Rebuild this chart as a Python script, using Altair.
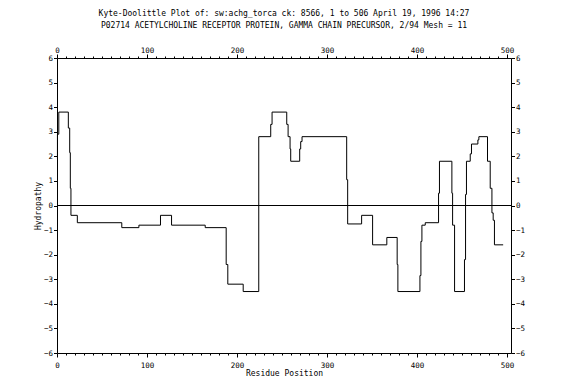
import altair as alt
import pandas as pd

# Step breakpoints (residue position) and hydropathy value of the following segment
positions = [0, 0.5, 2, 12.6, 14.1, 14.8, 15.5, 22.6, 72, 91,
             115, 127.3, 164.7, 188, 189.8, 206.9, 224.2, 237.5, 239, 255.3,
             256.8, 259, 259.7, 269.7, 270.8, 272.3, 321.9, 323, 338.5, 350.7,
             366.5, 378, 378.8, 403.3, 404.4, 405.5, 409.2, 424, 425, 438.8,
             439.6, 441.8, 452.8, 454, 455, 459.2, 460.6, 467.7, 468.8, 478.4,
             481.4, 483.3, 484.7, 486.1, 495.8]
hydropathy = [1.9, 2.9, 3.8, 3.15, 2.15, 0.7, -0.4, -0.7, -0.9, -0.8,
              -0.4, -0.8, -0.9, -2.4, -3.2, -3.5, 2.8, 3.3, 3.8, 3.3,
              2.8, 2.3, 1.8, 2.3, 2.6, 2.8, 1.05, -0.75, -0.4, -1.6,
              -1.3, -2.4, -3.5, -2.85, -1.46, -0.8, -0.7, 0.5, 1.8, 0.5,
              -0.8, -3.5, -2.2, 0.45, 1.8, 2.1, 2.5, 2.67, 2.8, 1.8,
              0.7, -0.3, -0.6, -1.6, -1.6]

x_ticks = list(range(0, 501, 10))
y_ticks = list(range(-6, 7))
title_lines = [
    "Kyte-Doolittle Plot of: sw:achg_torca ck: 8566, 1 to 506  April 19, 1996 14:27",
    "P02714 ACETYLCHOLINE RECEPTOR PROTEIN, GAMMA CHAIN PRECURSOR, 2/94 Mesh = 11",
]

df = pd.DataFrame({"pos": positions, "hyd": hydropathy})

FONT = "DejaVu Sans Mono"
xscale = alt.Scale(domain=[0, 504.5], nice=False, zero=False)
yscale = alt.Scale(domain=[-6, 6], nice=False)

major = {"condition": {"test": "datum.value % 100 === 0", "value": 4}, "value": 2}
lbl = "datum.value % 100 === 0 ? datum.label : ''"

common = dict(labelFont=FONT, labelFontSize=7.5, labelColor="black", tickColor="black",
              domainColor="black", grid=False, labelOverlap=False, labelFlush=False)

x_bottom = alt.Axis(orient="bottom", values=x_ticks, labelExpr=lbl, tickSize=major,
                    labelPadding=4, title="Residue Position", titleFont=FONT, titleFontSize=8,
                    titleFontWeight="normal", titleColor="black", titleY=20,
                    titleBaseline="middle", **common)
x_top = alt.Axis(orient="top", values=x_ticks, labelExpr=lbl, tickSize=major,
                 labelPadding=0, title="", **common)
y_left = alt.Axis(orient="left", values=y_ticks, tickSize=3.5, labelPadding=1,
                  title="Hydropathy", titleFont=FONT, titleFontSize=8, titleFontWeight="normal",
                  titleColor="black", titleX=-19, titleBaseline="middle", **common)
y_right = alt.Axis(orient="right", values=y_ticks, tickSize=3.5, labelPadding=1,
                   title="", **common)

line = alt.Chart(df).mark_line(interpolate="step-after", color="black", strokeWidth=1).encode(
    x=alt.X("pos:Q", scale=xscale, axis=x_bottom),
    y=alt.Y("hyd:Q", scale=yscale, axis=y_left),
)

ghost = alt.Chart(df).mark_point(opacity=0).encode(
    x=alt.X("pos:Q", scale=xscale, axis=x_top),
    y=alt.Y("hyd:Q", scale=yscale, axis=y_right),
)

zero = alt.Chart(df).mark_rule(color="black", strokeWidth=1).encode(
    y=alt.datum(0, scale=yscale, axis=None),
)

chart = alt.layer(line, ghost, zero).resolve_axis(x="independent", y="independent").properties(
    width=454,
    height=295,
    autosize="none",
    padding={"left": 49, "top": 50, "right": 60, "bottom": 30},
    title=alt.TitleParams(text=title_lines, font=FONT, fontSize=8, fontWeight="normal",
                          color="black", anchor="middle", frame="group", offset=16,
                          lineHeight=12),
).configure_view(stroke="black", strokeWidth=1).configure(background="white")

chart.save("out.html", embed_options={"renderer": "svg", "actions": False})
